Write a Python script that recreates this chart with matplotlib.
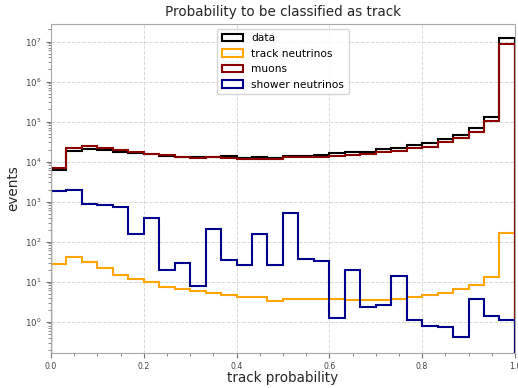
import numpy as np
import matplotlib
matplotlib.use("Agg")
import matplotlib.pyplot as plt
from matplotlib.ticker import MultipleLocator

# 30 equal-width bins of track probability
bin_edges = np.linspace(0.0, 1.0, 31)

data_counts = [6300, 18500, 20400, 19300, 17200, 16200, 15200, 14100, 13200, 13200,
               13300, 13600, 12600, 13200, 12600, 14100, 14100, 15000, 16200, 17200,
               17800, 20400, 22400, 25700, 29900, 37600, 47300, 70800, 133000, 11900000]
track_nu = [27.7, 40.6, 30.5, 21.6, 15.0, 11.7, 9.8, 7.5, 6.45, 5.9,
            5.1, 4.57, 4.2, 4.2, 3.35, 3.76, 3.63, 3.76, 3.76, 3.5,
            3.43, 3.43, 3.7, 4.2, 4.7, 5.3, 6.45, 8.4, 12.9, 165]
muons = [7080, 22400, 25100, 22400, 19500, 17800, 15800, 14700, 13300, 12600,
         13200, 12600, 11700, 11700, 11800, 12900, 12900, 13300, 14000, 14400,
         15600, 17200, 18800, 21600, 23700, 30500, 38500, 56200, 106000, 8900000]
shower_nu = [1880, 1960, 870, 830, 750, 153, 390, 20, 29, 7.8,
             211, 35, 26.6, 153, 26.6, 530, 37, 33, 1.26, 20,
             2.3, 2.57, 13.6, 1.1, 0.77, 0.74, 0.41, 3.76, 1.41, 1.1]

series = [
    ("data", data_counts, "black"),
    ("track neutrinos", track_nu, "orange"),
    ("muons", muons, "darkred"),
    ("shower neutrinos", shower_nu, "darkblue"),
]

fig = plt.figure(figsize=(5.18, 3.88), dpi=100)
ax = fig.add_axes([0.0985, 0.0895, 0.8955, 0.849])

centers = 0.5 * (bin_edges[:-1] + bin_edges[1:])
for label, counts, color in series:
    ax.hist(centers, bins=bin_edges, weights=counts, histtype="step",
            log=True, color=color, linewidth=1.5, label=label)

ax.set_xlim(0.0, 1.0)
ax.set_ylim(0.162, 2.76e7)
ax.xaxis.set_minor_locator(MultipleLocator(0.05))

ax.grid(True, which="major", color="#d9d9d9", linestyle="--", linewidth=0.7)
ax.set_axisbelow(True)
for sp in ax.spines.values():
    sp.set_color("#a8a8a8")

ax.tick_params(which="both", colors="#777777", labelcolor="#444444")
ax.tick_params(axis="x", labelsize=5.6, pad=2.5)
ax.tick_params(axis="y", labelsize=6.2)

ax.set_title("Probability to be classified as track", fontsize=9.75, color="#262626")
ax.set_xlabel("track probability", fontsize=9.75, color="#262626", labelpad=0.5)
ax.set_ylabel("events", fontsize=9.75, color="#262626", labelpad=3)

leg = ax.legend(loc="upper center", fontsize=7.7, frameon=True)
leg.get_frame().set_edgecolor("#cccccc")

fig.savefig("out.png", dpi=100)
